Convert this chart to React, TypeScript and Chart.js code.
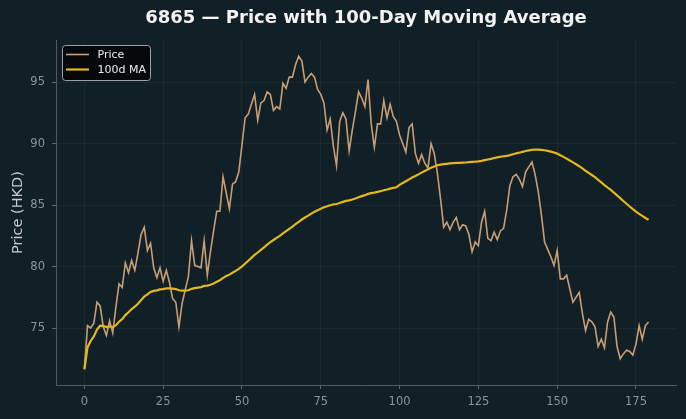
import React, { useEffect, useRef } from 'react';
import { Chart, registerables } from 'chart.js';

Chart.register(...registerables);

// Daily closing prices (HKD), one per trading day
const price: number[] = [
  71.65, 75.2, 75.0, 75.4, 77.1, 76.8, 75.1, 74.4, 75.6, 74.6,
  76.7, 78.6, 78.3, 80.3, 79.5, 80.5, 79.7, 81.1, 82.6, 83.2,
  81.3, 81.9, 79.9, 79.1, 79.9, 78.8, 79.7, 78.7, 77.4, 77.1,
  75.1, 77.0, 78.1, 79.2, 82.1, 80.1, 80.0, 79.9, 82.1, 79.3,
  81.2, 82.9, 84.5, 84.5, 87.3, 86.0, 84.7, 86.7, 86.9, 87.7,
  89.9, 92.1, 92.4, 93.2, 94.0, 91.9, 93.3, 93.5, 94.2, 94.0,
  92.7, 93.0, 92.8, 94.9, 94.5, 95.4, 95.4, 96.4, 97.1, 96.7,
  95.0, 95.4, 95.7, 95.4, 94.4, 94.0, 93.3, 91.1, 92.0, 89.8,
  88.2, 91.8, 92.5, 92.0, 89.4, 91.1, 92.6, 94.2, 93.7, 93.0,
  95.2, 91.6, 89.7, 91.6, 91.6, 93.5, 92.1, 93.2, 92.2, 91.8,
  90.7, 90.0, 89.3, 91.3, 91.6, 89.2, 88.4, 89.1, 88.4, 88.0,
  90.0, 89.2, 87.6, 85.5, 83.2, 83.6, 83.0, 83.6, 84.0, 83.0,
  83.4, 83.3, 82.6, 81.2, 82.0, 81.7, 83.6, 84.5, 82.3, 82.1,
  82.8, 82.2, 82.9, 83.1, 84.6, 86.6, 87.3, 87.5, 87.1, 86.5,
  87.7, 88.1, 88.5, 87.5, 86.1, 84.2, 82.0, 81.4, 80.8, 80.1,
  81.3, 79.0, 79.0, 79.3, 78.2, 77.1, 77.5, 77.9, 76.2, 74.8,
  75.7, 75.5, 75.1, 73.5, 74.1, 73.4, 75.5, 76.3, 75.9, 73.5,
  72.5, 72.9, 73.2, 73.1, 72.8, 73.7, 75.2, 74.1, 75.2, 75.5,
];

// Trading-day index for each price
const days: number[] = price.map((_, i) => i);

// 100-day trailing mean (shorter window at the start)
const MA_WINDOW = 100;
const movingAvg: number[] = price.map((_, i) => {
  const win = price.slice(Math.max(0, i - MA_WINDOW + 1), i + 1);
  return win.reduce((a, b) => a + b, 0) / win.length;
});

const xTicks: number[] = [0, 25, 50, 75, 100, 125, 150, 175];
const yTicks: number[] = [75, 80, 85, 90, 95];

const TITLE = '6865 — Price with 100-Day Moving Average';
const Y_LABEL = 'Price (HKD)';
const SERIES_NAMES = ['Price', '100d MA'];

const BG = '#111f27';
const PRICE_COLOR = '#c89e74';
const MA_COLOR = '#e2b81b';
const TICK_TEXT = '#8b9499';
const FONT = '"DejaVu Sans", "Liberation Sans", sans-serif';

const backgroundPlugin = {
  id: 'darkBackground',
  beforeDraw(chart: any) {
    const { ctx, width, height } = chart;
    ctx.save();
    ctx.fillStyle = BG;
    ctx.fillRect(0, 0, width, height);
    ctx.restore();
  },
};

const decorPlugin = {
  id: 'decor',
  afterDraw(chart: any) {
    const { ctx, chartArea } = chart;
    ctx.save();

    // Title
    ctx.fillStyle = '#f2f2f2';
    ctx.font = `bold 18px ${FONT}`;
    ctx.textAlign = 'center';
    ctx.textBaseline = 'middle';
    ctx.fillText(TITLE, (chartArea.left + chartArea.right) / 2, 18.5);

    // Y axis label
    ctx.save();
    ctx.translate(18, (chartArea.top + chartArea.bottom) / 2);
    ctx.rotate(-Math.PI / 2);
    ctx.fillStyle = '#c5cacd';
    ctx.font = `14.5px ${FONT}`;
    ctx.textAlign = 'center';
    ctx.textBaseline = 'middle';
    ctx.fillText(Y_LABEL, 0, 0);
    ctx.restore();

    // Legend box
    const lx = 62.5, ly = 45.5, lw = 88, lh = 35;
    ctx.beginPath();
    ctx.roundRect(lx, ly, lw, lh, 3);
    ctx.fillStyle = 'rgba(4,7,9,0.88)';
    ctx.fill();
    ctx.strokeStyle = '#9ba1a4';
    ctx.lineWidth = 1;
    ctx.stroke();

    const rows = [
      { name: SERIES_NAMES[0], color: PRICE_COLOR, w: 1.6, y: 54.5 },
      { name: SERIES_NAMES[1], color: MA_COLOR, w: 2.2, y: 69.5 },
    ];
    ctx.font = `11px ${FONT}`;
    ctx.textAlign = 'left';
    ctx.textBaseline = 'middle';
    for (const r of rows) {
      ctx.beginPath();
      ctx.moveTo(66, r.y);
      ctx.lineTo(89, r.y);
      ctx.strokeStyle = r.color;
      ctx.lineWidth = r.w;
      ctx.stroke();
      ctx.fillStyle = '#ececec';
      ctx.fillText(r.name, 97.5, r.y + 0.5);
    }
    ctx.restore();
  },
};

export default function App() {
  const canvasRef = useRef<HTMLCanvasElement | null>(null);

  useEffect(() => {
    if (!canvasRef.current) return;
    const chart = new Chart(canvasRef.current, {
      type: 'line',
      data: {
        datasets: [
          {
            label: SERIES_NAMES[0],
            data: days.map((d, i) => ({ x: d, y: price[i] })),
            borderColor: PRICE_COLOR,
            borderWidth: 1.6,
            pointRadius: 0,
            tension: 0,
            order: 2,
          },
          {
            label: SERIES_NAMES[1],
            data: days.map((d, i) => ({ x: d, y: movingAvg[i] })),
            borderColor: MA_COLOR,
            borderWidth: 2.2,
            pointRadius: 0,
            tension: 0,
            order: 1,
          },
        ],
      },
      options: {
        animation: false,
        responsive: false,
        devicePixelRatio: 1,
        layout: { padding: { top: 40, right: 10, left: 0, bottom: 0 } },
        plugins: {
          legend: { display: false },
          title: { display: false },
          tooltip: { enabled: false },
        },
        scales: {
          x: {
            type: 'linear',
            min: -9.0,
            max: 187.7,
            afterBuildTicks: (s: any) => {
              s.ticks = xTicks.map((v) => ({ value: v }));
            },
            afterFit: (s: any) => {
              s.height = 34;
            },
            grid: {
              color: 'rgba(255,255,255,0.045)',
              tickColor: '#5c676c',
              tickLength: 4,
            },
            border: { color: '#4e5a5f', width: 1 },
            ticks: {
              color: TICK_TEXT,
              font: { family: FONT, size: 11.5 },
              padding: 6,
              maxRotation: 0,
              autoSkip: false,
            },
          },
          y: {
            type: 'linear',
            min: 70.37,
            max: 98.42,
            afterBuildTicks: (s: any) => {
              s.ticks = yTicks.map((v) => ({ value: v }));
            },
            afterFit: (s: any) => {
              s.width = 56;
            },
            grid: {
              color: 'rgba(255,255,255,0.045)',
              tickColor: '#5c676c',
              tickLength: 4,
            },
            border: { color: '#4e5a5f', width: 1 },
            ticks: {
              color: TICK_TEXT,
              font: { family: FONT, size: 11.5 },
              padding: 7,
            },
          },
        },
      },
      plugins: [backgroundPlugin, decorPlugin],
    });
    return () => chart.destroy();
  }, []);

  return (
    <div style={{ position: 'fixed', left: 0, top: 0, width: 686, height: 419, background: BG }}>
      <canvas ref={canvasRef} width={686} height={419} />
    </div>
  );
}
